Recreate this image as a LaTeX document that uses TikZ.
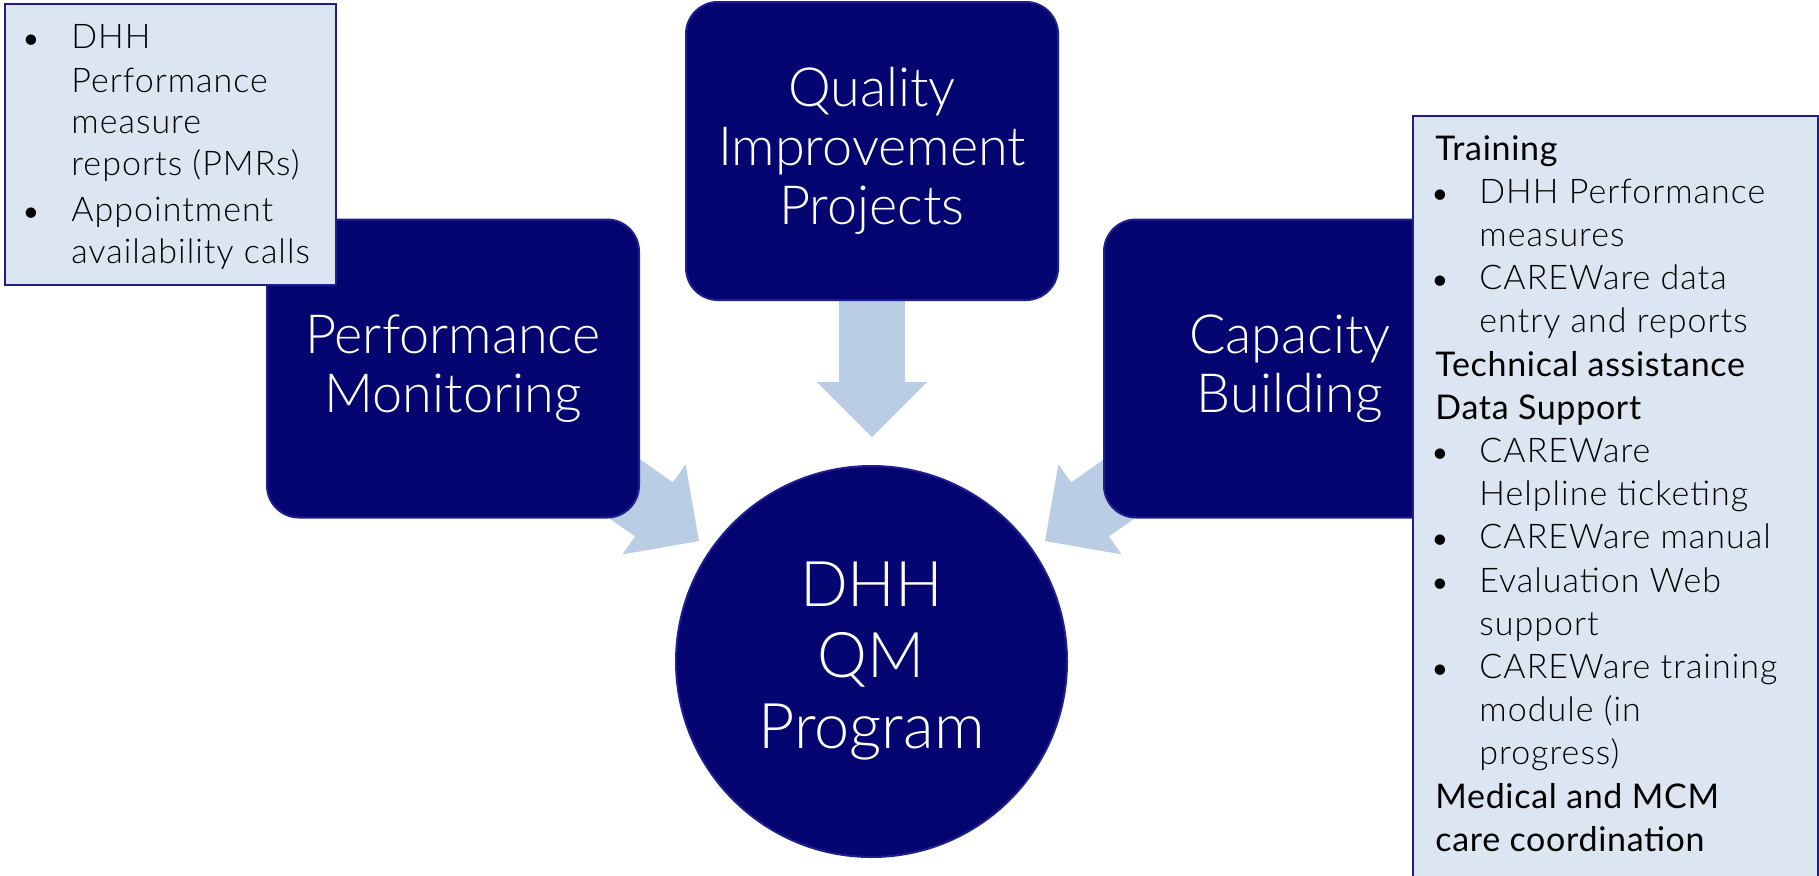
\documentclass[tikz,border=0pt]{standalone}
\usepackage{fontspec}
\setmainfont{Lato}
\newfontfamily\lightfont{Lato Light}
\newfontfamily\lightwide{Lato Light}[LetterSpace=3]
\newfontfamily\regwide{Lato}[LetterSpace=2]
\definecolor{navy}{RGB}{5,5,114}
\definecolor{navyline}{RGB}{30,30,145}
\definecolor{arrowblue}{RGB}{185,205,228}
\definecolor{panelfill}{RGB}{220,230,242}
\tikzset{
  bigbox/.style={draw=navyline, line width=1pt, fill=navy, rounded corners=16pt,
    minimum width=186pt, minimum height=149pt, inner sep=0pt, text=white, align=center,
    font=\lightfont\fontsize{27}{29.5}\selectfont},
  hub/.style={circle, draw=navyline, line width=1pt, fill=navy, minimum size=195.5pt,
    inner sep=0pt, text=white, align=center, font=\lightfont\fontsize{31.5}{35.5}\selectfont},
  blockarrow/.style={fill=arrowblue, draw=none},
  panel/.style={draw=navyline, line width=0.8pt, fill=panelfill},
  headtxt/.style={anchor=base west, inner sep=0pt, text=black, font=\regwide\fontsize{17}{20}\selectfont},
  itemtxt/.style={anchor=base west, inner sep=0pt, text=black, font=\lightwide\fontsize{17}{20}\selectfont},
  bullet/.style={anchor=base, inner sep=0pt, text=black, font=\fontsize{14}{20}\selectfont},
}
\begin{document}
\begin{tikzpicture}[x=0.5pt,y=-0.5pt]
\clip (0,0) rectangle (1819,875);
\fill[white] (0,0) rectangle (1819,875);

% block arrows (behind boxes)
\fill[blockarrow] (839,290) -- (905,290) -- (905,382) -- (927,382) -- (872,437) -- (817,382) -- (839,382) -- cycle;
\fill[blockarrow] (591,425) -- (672.9,482.4) -- (685.6,464.4) -- (699,541) -- (622.4,554.4) -- (635.1,536.4) -- (553,479) -- cycle;
\fill[blockarrow] (1153,425) -- (1071.1,482.4) -- (1058.4,464.4) -- (1045,541) -- (1121.6,554.4) -- (1108.9,536.4) -- (1191,479) -- cycle;

% main boxes
\node[bigbox] (qip) at (872,151) {Quality\\Improvement\\Projects};
\node[bigbox] (pm) at (453,368.5) {Performance\\Monitoring};
\node[bigbox] (cb) at (1290,368.5) {Capacity\\Building};
\node[hub] (prog) at (871.5,661.5) {DHH\\QM\\Program};

% left panel
\draw[panel] (5,4) rectangle (336,285);
\node[bullet] (lb1) at (31,48) {•};
\node[itemtxt] (l1) at (71,48) {DHH};
\node[itemtxt] (l2) at (71,92) {Performance};
\node[itemtxt] (l3) at (71,133) {measure};
\node[itemtxt] (l4) at (71,175) {reports (PMRs)};
\node[bullet] (lb2) at (31,221) {•};
\node[itemtxt] (l5) at (71,221) {Appointment};
\node[itemtxt] (l6) at (71,263) {availability calls};

% right panel
\draw[panel] (1413,116) rectangle (1818,890);
\foreach \i/\k/\t in {0/H/Training,1/B/DHH Performance,2/C/measures,3/B/CAREWare data,
  4/C/entry and reports,5/H/Technical assistance,6/H/Data Support,7/B/CAREWare,
  8/C/Helpline ticketing,9/B/CAREWare manual,10/B/Evaluation Web,11/C/support,
  12/B/CAREWare training,13/C/module (in,14/C/progress),15/H/Medical and MCM,16/H/care coordination}{
  \pgfmathsetmacro{\yy}{160+43.2*\i}
  \if\k H
    \node[headtxt] (r\i) at (1435,\yy) {\t};
  \else
    \node[itemtxt] (r\i) at (1479,\yy) {\t};
  \fi
  \if\k B
    \node[bullet] (rb\i) at (1440,\yy) {•};
  \fi
}
\end{tikzpicture}
\end{document}
